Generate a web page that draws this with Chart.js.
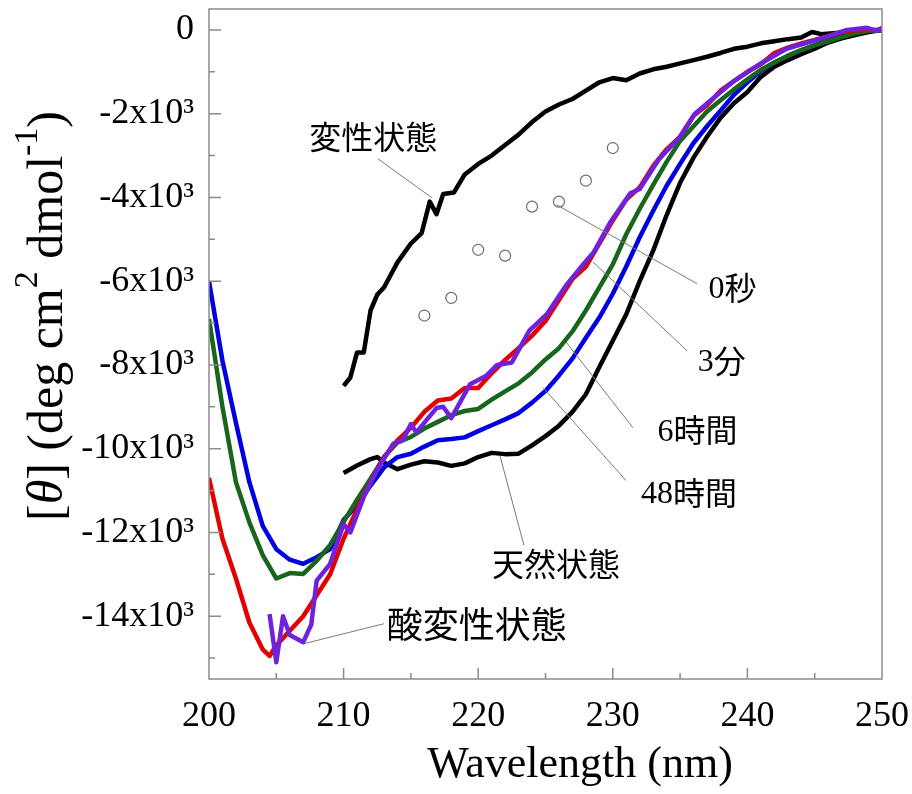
<!DOCTYPE html>
<html>
<head>
<meta charset="utf-8">
<script src="https://cdn.jsdelivr.net/npm/chart.js@4.4.1/dist/chart.umd.min.js"></script>
<style>
  html, body { margin: 0; padding: 0; background: #fff; }
  #wrap { width: 912px; height: 794px; }
</style>
</head>
<body>
<div id="wrap"><canvas id="cdChart" width="912" height="794"></canvas></div>
<script>
// axis ticks
const wavelengthTicks = [200, 210, 220, 230, 240, 250];
const thetaTicks = [0, -2000, -4000, -6000, -8000, -10000, -12000, -14000];

// denatured state (black, upper)
const denX = [210, 210.5, 211, 211.5, 212, 212.5, 213, 214, 215, 215.8, 216.4, 216.9, 217.4, 218.2,
  219, 220, 221, 222, 223, 224, 225, 226, 227, 228, 229, 230, 231, 232, 233, 234, 235, 236, 237, 238,
  239, 240, 241, 242, 243, 244, 244.8, 245.5, 247, 248, 249, 250];
const denY = [-8500, -8300, -7700, -7700, -6700, -6320, -6150, -5550, -5100, -4850, -4100, -4400, -3920, -3880,
  -3450, -3200, -3000, -2750, -2500, -2200, -1950, -1780, -1650, -1450, -1250, -1150, -1200, -1040, -940, -880, -800, -720, -640, -550,
  -450, -400, -320, -270, -220, -180, -50, -100, -60, -30, -10, 0];

// native state (black, lower)
const nativeX = [210, 211, 212, 212.5, 213, 214, 215, 216, 217, 218, 219, 220, 221, 222, 223, 224, 225,
  226, 227, 228, 229, 230, 231, 232, 233, 234, 235, 236, 237, 238, 239, 240, 241, 242, 243, 244, 245,
  246, 247, 248, 249, 250];
const nativeY = [-10580, -10400, -10250, -10200, -10330, -10490, -10380, -10300, -10330, -10410, -10350, -10200, -10100, -10130, -10120, -9920, -9700,
  -9450, -9120, -8700, -8050, -7420, -6790, -6000, -5270, -4420, -3650, -3050, -2550, -2100, -1750, -1480, -1120, -880, -720, -580, -450,
  -300, -200, -120, -50, 0];

// 3 min (red)
const redX = [200, 201, 202, 203, 204, 204.5, 205, 206, 207, 208, 209, 210, 211, 212, 213, 214, 215, 216,
  217, 218, 219, 220, 221, 222, 223, 224, 225, 226, 227, 228, 229, 230, 231, 232, 233, 234, 235, 236,
  237, 238, 239, 240, 241, 242, 243, 244, 245, 246, 247, 248, 249, 250];
const redY = [-10700, -12150, -13100, -14150, -14800, -14950, -14700, -14350, -14000, -13500, -13000, -12150, -11450, -10800, -10200, -9800, -9500, -9120,
  -8850, -8800, -8550, -8550, -8200, -7880, -7600, -7300, -6950, -6450, -5950, -5650, -5100, -4550, -4050, -3760, -3250, -2850, -2550, -2050,
  -1800, -1450, -1220, -1000, -820, -550, -420, -320, -240, -150, -50, 0, 0, 0];

// 6 h (green), 48 h (blue): 200..250 nm every 1 nm
const gridX = [200, 201, 202, 203, 204, 205, 206, 207, 208, 209, 210, 211, 212, 213, 214, 215, 216, 217,
  218, 219, 220, 221, 222, 223, 224, 225, 226, 227, 228, 229, 230, 231, 232, 233, 234, 235, 236, 237,
  238, 239, 240, 241, 242, 243, 244, 245, 246, 247, 248, 249, 250];
const greenY = [-6900, -9000, -10800, -11760, -12550, -13100, -12970, -12990, -12680, -12300,
  -11750, -11220, -10720, -10200, -9850, -9720, -9520, -9360, -9200, -9100,
  -9050, -8830, -8630, -8440, -8180, -7870, -7600, -7200, -6700, -6150,
  -5600, -4880, -4270, -3700, -3150, -2650, -2300, -1950, -1680, -1420,
  -1180, -950, -780, -620, -480, -370, -270, -170, -80, -20, 0];
const blueY = [-6000, -7900, -9380, -10800, -11850, -12400, -12650, -12750, -12590, -12400,
  -11700, -11350, -10880, -10450, -10200, -10120, -9950, -9800, -9770, -9730,
  -9580, -9440, -9300, -9150, -8900, -8620, -8250, -7850, -7350, -6870,
  -6300, -5650, -4950, -4320, -3720, -3200, -2700, -2300, -1930, -1550,
  -1250, -980, -780, -620, -490, -360, -240, -130, -60, -20, 0];

// acid-denatured state (purple)
const acidX = [204.5, 205, 205.5, 206, 207, 207.6, 208, 209, 210, 210.5, 211.5, 212.5, 213.7, 214.4, 215, 215.4,
  216.9, 217.4, 218, 219.4, 220.6, 221.4, 222.5, 223.8, 225.1, 226.6, 227.8, 228.6, 229.8, 231.3, 232, 233.4,
  235, 236.1, 237.5, 239, 241, 242.9, 244.9, 246, 247.4, 248.9, 249.6, 250];
const acidY = [-13950, -15100, -14000, -14450, -14620, -14200, -13150, -12750, -11800, -12000, -11150, -10500, -9880, -9800, -9410, -9610,
  -9030, -9000, -9270, -8460, -8260, -8000, -7940, -7180, -6790, -6070, -5600, -5300, -4600, -3900, -3800, -3100,
  -2550, -2000, -1620, -1220, -800, -450, -260, -150, 0, 50, -20, 50];

// 0 s (open circles)
const zeroX = [216, 218, 220, 222, 224, 226, 228, 230];
const zeroY = [-6820, -6400, -5250, -5390, -4220, -4100, -3600, -2820];

function pts(xs, ys) {
  return xs.map((x, i) => ({ x: x, y: ys[i] }));
}

// callout labels with leader lines, in data units
const callouts = [
  { text: '変性状態', x: 212.2, y: -2550, from: [212.56, -3080], to: [216.57, -4010], size: 32 },
  { text: '0秒', x: 238.9, y: -6160, from: [225.85, -4180], to: [236.26, -6060], size: 32 },
  { text: '3分', x: 238.1, y: -7900, from: [228.53, -5540], to: [235.51, -7660], size: 32 },
  { text: '6時間', x: 236.3, y: -9560, from: [226.52, -7450], to: [231.5, -9500], size: 32 },
  { text: '48時間', x: 235.66, y: -11050, from: [224.81, -8540], to: [230.98, -10760], size: 32 },
  { text: '天然状態', x: 225.78, y: -12760, from: [221.62, -10170], to: [223.4, -12310], size: 32 },
  { text: '酸変性状態', x: 219.9, y: -14190, from: [207.13, -14650], to: [213.0, -14180], size: 36 }
];

const serif = "'Liberation Serif', 'Times New Roman', 'Noto Sans CJK JP', serif";

// draw a label: digits in serif, kanji in gothic
function drawLabel(ctx, text, cx, cy, size) {
  const runs = text.match(/[0-9]+|[^0-9]+/g);
  const fonts = runs.map(r => /[0-9]/.test(r) ? size + "px 'Liberation Serif'" : size + "px 'Noto Sans CJK JP'");
  let total = 0;
  const widths = runs.map((r, i) => { ctx.font = fonts[i]; const w = ctx.measureText(r).width; total += w; return w; });
  let x = cx - total / 2;
  ctx.textAlign = 'left';
  ctx.textBaseline = 'middle';
  runs.forEach((r, i) => {
    ctx.font = fonts[i];
    ctx.fillText(r, x, cy + (/[0-9]/.test(r) ? 2 : 0));
    x += widths[i];
  });
}

const decor = {
  id: 'decor',
  afterDatasetsDraw(chart) {
    const ctx = chart.ctx;
    const xs = chart.scales.x, ys = chart.scales.y;
    ctx.save();
    ctx.strokeStyle = '#7a7a7a';
    ctx.lineWidth = 1;
    ctx.fillStyle = '#000';
    callouts.forEach(c => {
      ctx.beginPath();
      ctx.moveTo(xs.getPixelForValue(c.from[0]), ys.getPixelForValue(c.from[1]));
      ctx.lineTo(xs.getPixelForValue(c.to[0]), ys.getPixelForValue(c.to[1]));
      ctx.stroke();
      drawLabel(ctx, c.text, xs.getPixelForValue(c.x), ys.getPixelForValue(c.y), c.size);
    });
    ctx.restore();
  },
  afterDraw(chart) {
    const ctx = chart.ctx;
    const a = chart.chartArea;
    const xs = chart.scales.x, ys = chart.scales.y;
    ctx.save();
    // frame
    ctx.strokeStyle = '#8c8c8c';
    ctx.lineWidth = 1.5;
    ctx.strokeRect(a.left, a.top, a.right - a.left, a.bottom - a.top);
    // inward ticks
    ctx.beginPath();
    for (let v = -15000; v <= 0; v += 1000) {
      const py = ys.getPixelForValue(v);
      const len = (v % 2000 === 0) ? 12 : 6;
      ctx.moveTo(a.left, py);
      ctx.lineTo(a.left + len, py);
    }
    for (let w = 205; w < 250; w += 5) {
      const px = xs.getPixelForValue(w);
      const len = (w % 10 === 0) ? 11 : 6;
      ctx.moveTo(px, a.bottom);
      ctx.lineTo(px, a.bottom - len);
    }
    ctx.stroke();

    // x title
    ctx.fillStyle = '#000';
    ctx.font = '44px ' + serif;
    ctx.textAlign = 'center';
    ctx.textBaseline = 'alphabetic';
    ctx.fillText('Wavelength (nm)', 580, 777);

    // y title with italic theta and superscripts
    const parts = [
      { t: '[', f: '50px ' + serif, dy: 0 },
      { t: 'θ', f: 'italic 50px ' + serif, dy: 0 },
      { t: '] (deg cm', f: '50px ' + serif, dy: 0 },
      { t: '2', f: '34px ' + serif, dy: -25 },
      { t: ' dmol', f: '50px ' + serif, dy: 0 },
      { t: '-1', f: '34px ' + serif, dy: -25 },
      { t: ')', f: '50px ' + serif, dy: 0 }
    ];
    let total = 0;
    parts.forEach(p => { ctx.font = p.f; p.w = ctx.measureText(p.t).width; total += p.w; });
    ctx.translate(62, 316 + total / 2);
    ctx.rotate(-Math.PI / 2);
    ctx.textAlign = 'left';
    let cx = 0;
    parts.forEach(p => {
      ctx.font = p.f;
      ctx.fillText(p.t, cx, p.dy);
      cx += p.w;
    });
    ctx.restore();
  }
};

const ctx = document.getElementById('cdChart').getContext('2d');
const chart = new Chart(ctx, {
  type: 'line',
  data: {
    datasets: [
      { label: '0秒', data: pts(zeroX, zeroY), showLine: false, pointRadius: 5.5,
        pointBackgroundColor: '#fff', pointBorderColor: '#6e6e6e', pointBorderWidth: 1.2 },
      { label: '酸変性状態', data: pts(acidX, acidY), borderColor: '#6f22dd' },
      { label: '3分', data: pts(redX, redY), borderColor: '#e30000' },
      { label: '6時間', data: pts(gridX, greenY), borderColor: '#17661c' },
      { label: '48時間', data: pts(gridX, blueY), borderColor: '#0000e0' },
      { label: '天然状態', data: pts(nativeX, nativeY), borderColor: '#000' },
      { label: '変性状態', data: pts(denX, denY), borderColor: '#000' }
    ]
  },
  options: {
    responsive: false,
    animation: false,
    events: [],
    datasets: {
      line: { borderWidth: 4.5, pointRadius: 0, fill: false, tension: 0, borderJoinStyle: 'round' }
    },
    layout: { padding: { top: 9, right: 30, left: 0, bottom: 0 } },
    plugins: { legend: { display: false }, tooltip: { enabled: false } },
    scales: {
      x: {
        type: 'linear',
        min: 200,
        max: 250,
        grid: { display: false, drawTicks: false },
        border: { display: false },
        afterBuildTicks: s => { s.ticks = wavelengthTicks.map(v => ({ value: v })); },
        afterFit: s => { s.height = 115; s.paddingLeft = 0; s.paddingRight = 0; },
        ticks: { color: '#000', padding: 16, maxRotation: 0, font: { family: serif, size: 36 } }
      },
      y: {
        type: 'linear',
        min: -15500,
        max: 500,
        grid: { display: false, drawTicks: false },
        border: { display: false },
        afterBuildTicks: s => { s.ticks = thetaTicks.map(v => ({ value: v })); },
        afterFit: s => { s.width = 209; s.paddingTop = 0; s.paddingBottom = 0; },
        ticks: {
          color: '#000',
          padding: 15,
          font: { family: serif, size: 36 },
          callback: v => v === 0 ? '0' : (v / 1000) + 'x10³'
        }
      }
    }
  },
  plugins: [decor]
});
</script>
</body>
</html>
